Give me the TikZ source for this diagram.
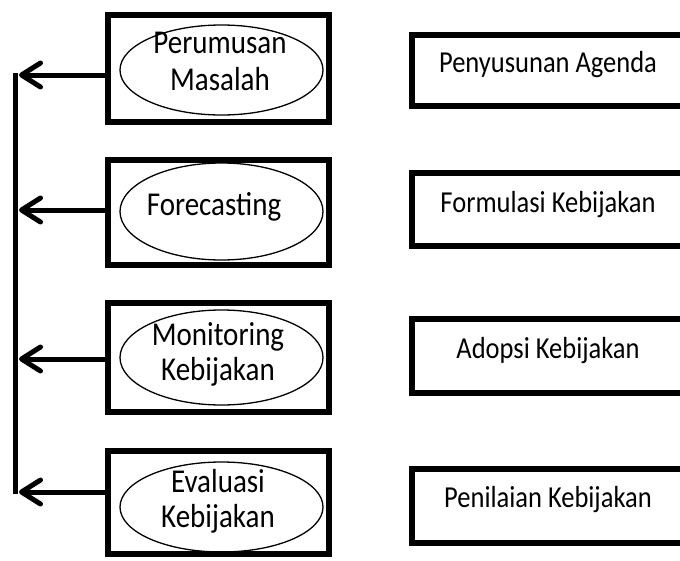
\documentclass[tikz,border=0pt]{standalone}
\usepackage{fontspec}
\setmainfont{Carlito}
\usetikzlibrary{arrows.meta,shapes.geometric}
\newcommand{\stretchtxt}[1]{\scalebox{1}[1.15]{#1}}
\begin{document}
\begin{tikzpicture}[x=1pt,y=-1pt,
  outerbox/.style={draw,line width=6pt,rectangle,minimum width=221pt,inner sep=0pt},
  rightbox/.style={draw,line width=6pt,rectangle,minimum width=278pt,inner sep=0pt},
  oval/.style={draw,line width=1.3pt,ellipse,minimum width=203pt,inner sep=0pt},
  lbl/.style={anchor=base,inner sep=0pt,font=\fontsize{29}{32}\selectfont},
  rlbl/.style={anchor=base,inner sep=0pt,font=\fontsize{26.5}{32}\selectfont},
  conn/.style={line width=5pt,line cap=round,-{Straight Barb[length=19pt,width=24pt,round]}}
]
\clip (0,0) rectangle (680,560);
\fill[white] (0,0) rectangle (680,560);
% left boxes
\node[outerbox,minimum height=107pt] (b1) at (218.5,68.5) {};
\node[outerbox,minimum height=105pt] (b2) at (218.5,212.5) {};
\node[outerbox,minimum height=109pt] (b3) at (218.5,357.5) {};
\node[outerbox,minimum height=103pt] (b4) at (218.5,502.5) {};
% ellipses
\node[oval,minimum height=90pt] (e1) at (221.5,70) {};
\node[oval,minimum height=97pt] (e2) at (221.5,211.5) {};
\node[oval,minimum height=95pt] (e3) at (221.5,357.5) {};
\node[oval,minimum height=90pt] (e4) at (221.5,507) {};
% ellipse texts
\node[lbl] (t1a) at (220,53) {\stretchtxt{Perumusan}};
\node[lbl] (t1b) at (220,90) {\stretchtxt{Masalah}};
\node[lbl] (t2a) at (214,215) {\stretchtxt{Forecasting}};
\node[lbl] (t3a) at (218,345) {\stretchtxt{Monitoring}};
\node[lbl] (t3b) at (218,380) {\stretchtxt{Kebijakan}};
\node[lbl] (t4a) at (218,492) {\stretchtxt{Evaluasi}};
\node[lbl] (t4b) at (218,527) {\stretchtxt{Kebijakan}};
% right boxes
\node[rightbox,minimum height=71pt] (r1) at (551,70) {};
\node[rightbox,minimum height=73pt] (r2) at (551,209) {};
\node[rightbox,minimum height=74pt] (r3) at (551,355.5) {};
\node[rightbox,minimum height=74pt] (r4) at (551,505.5) {};
\node[rlbl] (s1) at (548,72) {\stretchtxt{Penyusunan Agenda}};
\node[rlbl] (s2) at (548,212) {\stretchtxt{Formulasi Kebijakan}};
\node[rlbl] (s3) at (548,358) {\stretchtxt{Adopsi Kebijakan}};
\node[rlbl] (s4) at (548,507) {\stretchtxt{Penilaian Kebijakan}};
% arrows
\coordinate (a1) at (19,75);
\coordinate (a2) at (19,210);
\coordinate (a3) at (19,359);
\coordinate (a4) at (19,492);
\coordinate (vtop) at (15,73);
\coordinate (vbot) at (15,494);
\draw[line width=5pt] (vtop) -- (vbot);
\draw[conn] (b1.west |- a1) -- (a1);
\draw[conn] (b2.west |- a2) -- (a2);
\draw[conn] (b3.west |- a3) -- (a3);
\draw[conn] (b4.west |- a4) -- (a4);
\end{tikzpicture}
\end{document}
